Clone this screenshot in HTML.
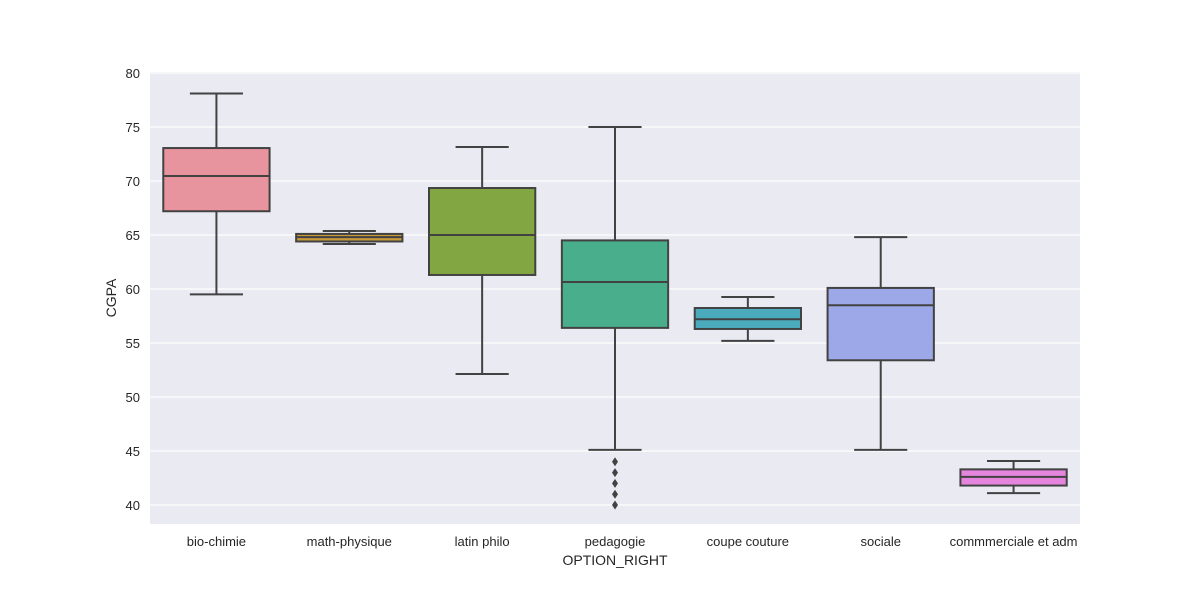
<!DOCTYPE html>
<html><head><meta charset="utf-8"><style>
body{margin:0;background:#fff;}
svg text{font-family:"Liberation Sans",Arial,sans-serif;fill:#262626;}
</style></head><body>
<svg id="chart" width="1200" height="600" xmlns="http://www.w3.org/2000/svg">
<rect x="150" y="72" width="930" height="452" fill="#eaeaf2"/>
<g id="grid"></g><g id="boxes"></g><g id="axes"></g>
<text x="615" y="565" font-size="14" text-anchor="middle">OPTION_RIGHT</text>
<text x="116" y="298" font-size="14" text-anchor="middle" transform="rotate(-90 116 298)">CGPA</text>
</svg>
<script>
const categories=["bio-chimie","math-physique","latin philo","pedagogie","coupe couture","sociale","commmerciale et adm"];
const whiskerLow=[59.5,64.17,52.13,45.1,55.2,45.1,41.1];
const q1=[67.2,64.4,61.3,56.4,56.3,53.4,41.8];
const median=[70.46,64.8,65,60.65,57.2,58.5,42.6];
const q3=[73.05,65.1,69.35,64.5,58.24,60.1,43.3];
const whiskerHigh=[78.1,65.37,73.15,75,59.26,64.8,44.07];
const outliers=[[],[],[],[44,43,42,41,40],[],[],[]];
const colors=["#e8949f","#c99a3c","#82a642","#48ae8c","#4aabbd","#9da8e8","#e685dd"];
const yTicks=[40,45,50,55,60,65,70,75,80];
const NS="http://www.w3.org/2000/svg";
const y=v=>505-(v-40)*10.8;
const bw=930/categories.length;
const xc=i=>150+bw*(i+0.5);
function mk(tag,attrs,parent){const e=document.createElementNS(NS,tag);for(const k in attrs)e.setAttribute(k,attrs[k]);parent.appendChild(e);return e;}
const grid=document.getElementById('grid'),boxes=document.getElementById('boxes'),axes=document.getElementById('axes');
yTicks.forEach(t=>{
 const l=mk('line',{x1:150,x2:1080,y1:y(t),y2:y(t),stroke:'#fff','stroke-width':1.2},grid);
 
 
 const tx=mk('text',{x:140,y:y(t)+5,'font-size':13,'text-anchor':'end'},axes);
 tx.textContent=t;
 
 
});
categories.forEach((c,i)=>{
 const cx=xc(i),w=bw*0.8,g=mk('g',{},boxes);
 
 
 const st={stroke:'#424242','stroke-width':2,fill:'none'};
 mk('line',Object.assign({x1:cx,x2:cx,y1:y(whiskerHigh[i]),y2:y(q3[i])},st),g);
 mk('line',Object.assign({x1:cx,x2:cx,y1:y(q1[i]),y2:y(whiskerLow[i])},st),g);
 mk('line',Object.assign({x1:cx-w/4,x2:cx+w/4,y1:y(whiskerHigh[i]),y2:y(whiskerHigh[i])},st),g);
 mk('line',Object.assign({x1:cx-w/4,x2:cx+w/4,y1:y(whiskerLow[i]),y2:y(whiskerLow[i])},st),g);
 mk('rect',{x:cx-w/2,y:y(q3[i]),width:w,height:y(q1[i])-y(q3[i]),fill:colors[i],stroke:'#424242','stroke-width':2},g);
 mk('line',Object.assign({x1:cx-w/2,x2:cx+w/2,y1:y(median[i]),y2:y(median[i])},st),g);
 outliers[i].forEach(o=>{const yy=y(o);mk('polygon',{points:`${cx},${yy-4.5} ${cx+3},${yy} ${cx},${yy+4.5} ${cx-3},${yy}`,fill:'#424242'},g);});
 const tx=mk('text',{x:cx,y:546,'font-size':13,'text-anchor':'middle'},axes);
 tx.textContent=c;
 
 
});
</script>
</body></html>
